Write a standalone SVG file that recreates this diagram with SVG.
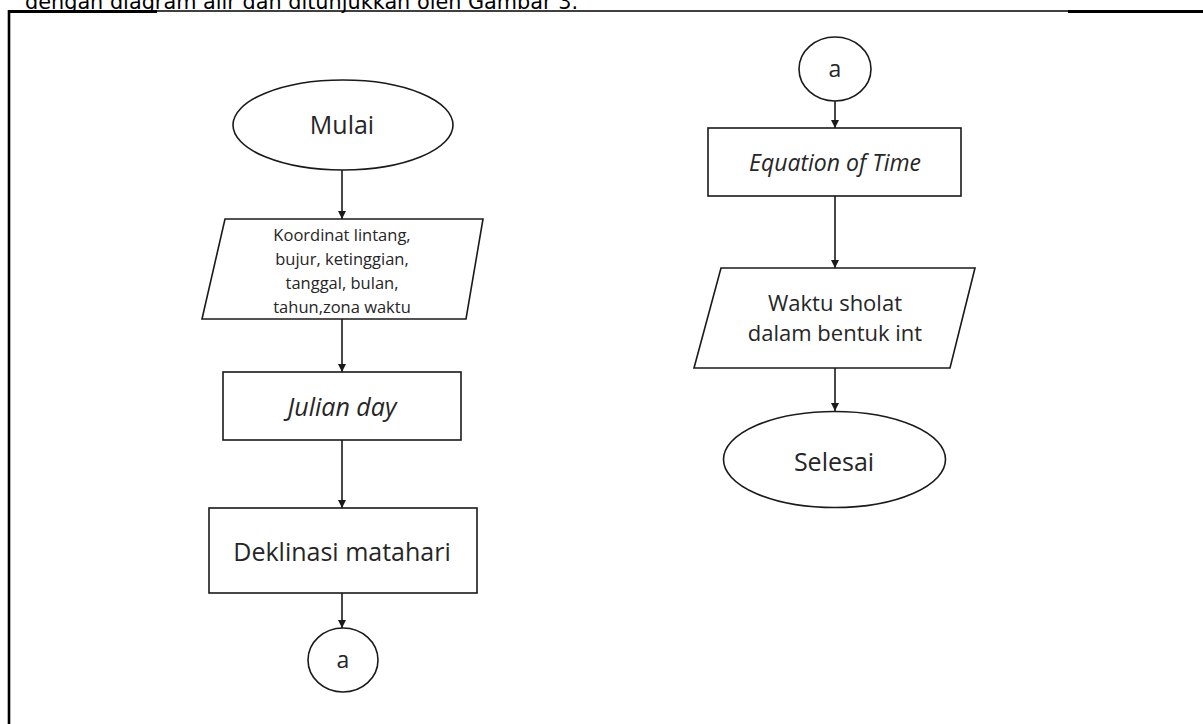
<svg xmlns="http://www.w3.org/2000/svg" width="1203" height="724" viewBox="0 0 1203 724">
<defs>
<style>
.shape{fill:#fff;stroke:#1a1a1a;stroke-width:1.6}
.t{font-family:"Open Sans","Noto Sans",sans-serif;fill:#262626;text-anchor:middle;dominant-baseline:central}
.conn{stroke:#1a1a1a;stroke-width:1.6;fill:none;marker-end:url(#ah)}
</style>
<marker id="ah" markerWidth="10" markerHeight="10" refX="9" refY="5" orient="auto" markerUnits="userSpaceOnUse">
<path d="M1,1 L9,5 L1,9 Z" fill="#1a1a1a"/>
</marker>
</defs>
<rect width="1203" height="724" fill="#fff"/>
<text x="25" y="9" font-family="'DejaVu Sans',Verdana,sans-serif" font-size="20.8" fill="#000">dengan diagram alir dan ditunjukkan oleh Gambar 3.</text>
<g id="frame" stroke="#000" fill="none">
<line x1="9" y1="10" x2="9" y2="724" stroke-width="2.6"/>
<line x1="8" y1="11.5" x2="157" y2="11.5" stroke-width="3"/>
<line x1="157" y1="11" x2="1068" y2="11" stroke-width="1.6"/>
<line x1="1068" y1="11.5" x2="1203" y2="11.5" stroke-width="3"/>
</g>
<g id="connectors">
<line class="conn" x1="342" y1="170" x2="342" y2="219"/>
<line class="conn" x1="342" y1="319" x2="342" y2="372"/>
<line class="conn" x1="342" y1="440" x2="342" y2="508"/>
<line class="conn" x1="342" y1="593" x2="342" y2="628"/>
<line class="conn" x1="835" y1="101" x2="835" y2="128"/>
<line class="conn" x1="835" y1="196" x2="835" y2="268"/>
<line class="conn" x1="835" y1="368" x2="835" y2="411"/>
</g>
<g id="mulai">
<ellipse class="shape" cx="343" cy="125" rx="110" ry="45"/>
<text class="t" x="342" y="124" font-size="25">Mulai</text>
</g>
<g id="input">
<polygon class="shape" points="225,219 483,219 466,319 202,319"/>
<text class="t" font-size="16.5"><tspan x="342" y="234">Koordinat lintang,</tspan><tspan x="342" y="258">bujur, ketinggian,</tspan><tspan x="342" y="282">tanggal, bulan,</tspan><tspan x="342" y="306">tahun,zona waktu</tspan></text>
</g>
<g id="julian">
<rect class="shape" x="223" y="372" width="238" height="68"/>
<text class="t" x="342" y="406" font-size="25" font-style="italic">Julian day</text>
</g>
<g id="deklinasi">
<rect class="shape" x="209" y="508" width="268" height="85"/>
<text class="t" x="342" y="551" font-size="25">Deklinasi matahari</text>
</g>
<g id="a-left">
<ellipse class="shape" cx="343" cy="660" rx="35" ry="32"/>
<text class="t" x="343" y="659" font-size="23">a</text>
</g>
<g id="a-right">
<ellipse class="shape" cx="835" cy="69" rx="36" ry="32"/>
<text class="t" x="835" y="68" font-size="23">a</text>
</g>
<g id="eot">
<rect class="shape" x="708" y="128" width="253" height="68"/>
<text class="t" x="835" y="162" font-size="23" font-style="italic">Equation of Time</text>
</g>
<g id="output">
<polygon class="shape" points="721,268 975,268 950,368 694,368"/>
<text class="t" font-size="22"><tspan x="835" y="302">Waktu sholat</tspan><tspan x="835" y="332">dalam bentuk int</tspan></text>
</g>
<g id="selesai">
<ellipse class="shape" cx="834.5" cy="459.5" rx="111" ry="48"/>
<text class="t" x="834" y="461" font-size="25">Selesai</text>
</g>
</svg>
